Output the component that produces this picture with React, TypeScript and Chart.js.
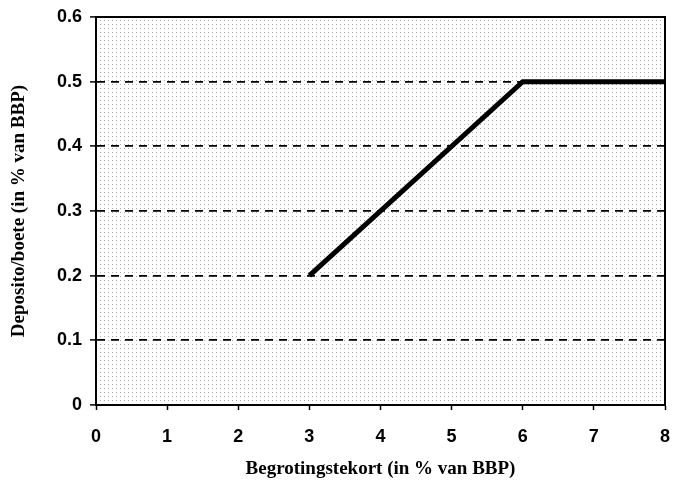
import React, { useEffect, useRef } from "react";
import { Chart, registerables } from "chart.js";

Chart.register(...registerables);

const deficit = [3, 6, 8];
const deposit = [0.2, 0.5, 0.5];
const xTitle = "Begrotingstekort (in % van BBP)";
const yTitle = "Deposito/boete (in % van BBP)";

const framePlugin = {
  id: "frameAndDots",
  beforeDraw(chart: any) {
    const { ctx, chartArea: a } = chart;
    const pc = document.createElement("canvas");
    pc.width = 4;
    pc.height = 4;
    const p = pc.getContext("2d")!;
    p.fillStyle = "#a8a8a8";
    p.fillRect(0, 0, 1, 1);
    const pat = ctx.createPattern(pc, "repeat");
    ctx.save();
    ctx.fillStyle = "#fff";
    ctx.fillRect(0, 0, chart.width, chart.height);
    ctx.fillStyle = pat;
    ctx.fillRect(a.left, a.top, a.right - a.left, a.bottom - a.top);
    ctx.restore();
  },
  afterDraw(chart: any) {
    const { ctx, chartArea: a } = chart;
    ctx.save();
    ctx.strokeStyle = "#000";
    ctx.lineWidth = 2;
    ctx.setLineDash([]);
    ctx.strokeRect(a.left, a.top, a.right - a.left, a.bottom - a.top);
    ctx.restore();
  },
};

export default function App() {
  const ref = useRef<HTMLCanvasElement>(null);
  useEffect(() => {
    const chart = new Chart(ref.current!, {
      type: "scatter",
      data: {
        datasets: [
          {
            data: deficit.map((x, i) => ({ x, y: deposit[i] })),
            showLine: true,
            borderColor: "#000",
            borderWidth: 5,
            pointRadius: 0,
            fill: false,
          },
        ],
      },
      options: {
        animation: false,
        responsive: false,
        layout: { padding: { top: 17, right: 9, left: 0, bottom: 0 } },
        plugins: { legend: { display: false }, tooltip: { enabled: false } },
        scales: {
          x: {
            type: "linear",
            min: 0,
            max: 8,
            ticks: {
              stepSize: 1,
              padding: 16,
              color: "#000",
              font: { family: "Liberation Sans", size: 18, weight: "bold" },
            },
            grid: {
              drawOnChartArea: false,
              tickLength: 5,
              tickColor: "#000",
              tickWidth: 1.5,
            },
            border: { color: "#000", width: 2 },
            title: {
              display: true,
              text: xTitle,
              color: "#000",
              font: { family: "Liberation Serif", size: 19, weight: "bold" },
              padding: { top: 0, bottom: 15 },
            },
            afterFit(scale: any) {
              scale.height = 90;
              scale.paddingLeft = 0;
              scale.paddingRight = 0;
            },
          },
          y: {
            type: "linear",
            min: 0,
            max: 0.6,
            ticks: {
              stepSize: 0.1,
              padding: 8,
              color: "#000",
              font: { family: "Liberation Sans", size: 18, weight: "bold" },
              callback: (v: any) => (Math.round(v * 10) / 10).toString(),
            },
            grid: {
              color: (c: any) => {
                const v = c.tick ? c.tick.value : 0;
                return v > 0.05 && v < 0.55 ? "#000" : "rgba(0,0,0,0)";
              },
              lineWidth: 1.8,
              tickLength: 6,
              tickColor: "#000",
              tickWidth: 1.5,
            },
            border: { color: "#000", width: 2, dash: [8, 6] },
            title: {
              display: true,
              text: yTitle,
              color: "#000",
              font: { family: "Liberation Serif", size: 19, weight: "bold" },
              padding: { top: 8, bottom: 0 },
            },
            afterFit(scale: any) {
              scale.width = 96;
              scale.paddingTop = 0;
              scale.paddingBottom = 0;
            },
          },
        },
      },
      plugins: [framePlugin],
    });
    return () => chart.destroy();
  }, []);
  return (
    <div style={{ position: "fixed", left: 0, top: 0, width: 674, height: 495 }}>
      <canvas ref={ref} width={674} height={495} />
    </div>
  );
}
